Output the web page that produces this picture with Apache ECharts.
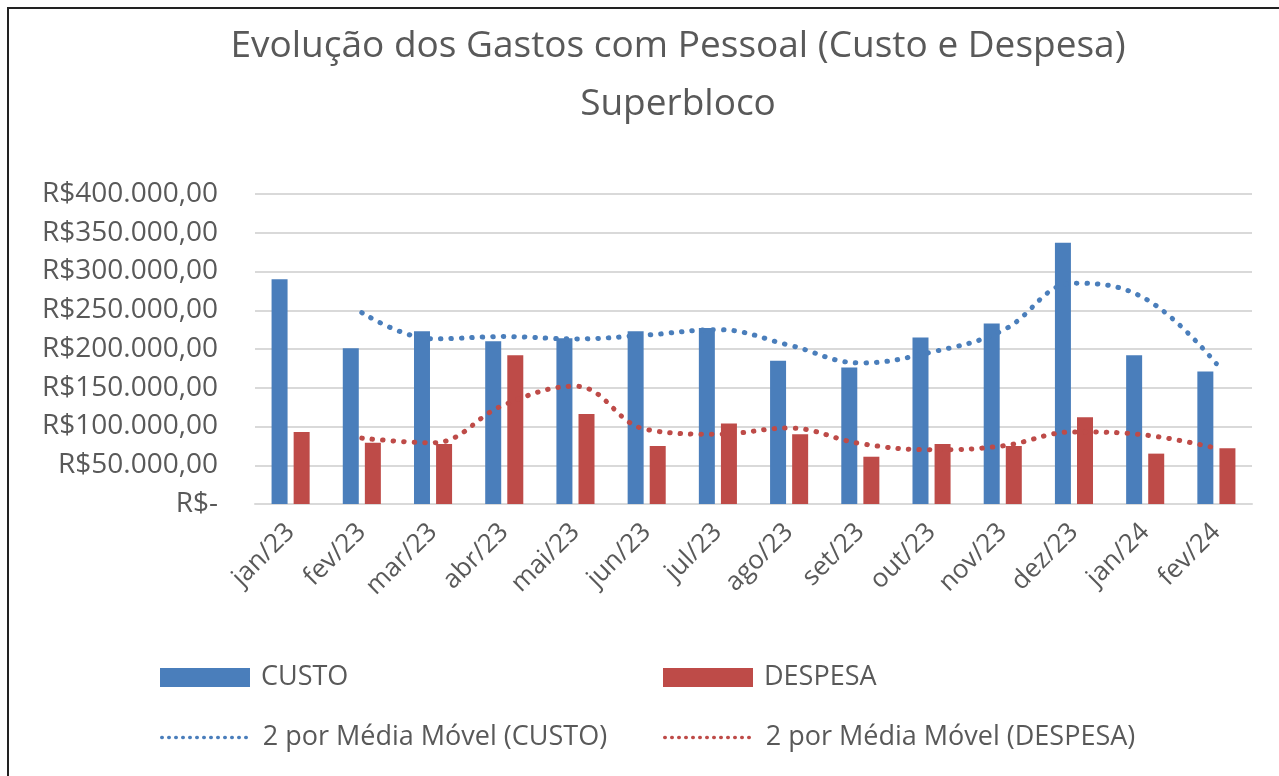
<!DOCTYPE html>
<html>
<head>
<meta charset="utf-8">
<title>Evolução dos Gastos com Pessoal</title>
<script src="https://cdn.jsdelivr.net/npm/echarts@6/dist/echarts.min.js"></script>
<style>
  html, body { margin: 0; padding: 0; background: #fff; }
  #main { width: 1279px; height: 776px; }
</style>
</head>
<body>
<div id="main"></div>
<script>
// dados
var meses = ['jan/23', 'fev/23', 'mar/23', 'abr/23', 'mai/23', 'jun/23', 'jul/23',
  'ago/23', 'set/23', 'out/23', 'nov/23', 'dez/23', 'jan/24', 'fev/24'];
var custo = [290000, 201000, 223000, 210000, 214000, 223000, 227000,
  185000, 176000, 215000, 233000, 337000, 192000, 171000];
var despesa = [93000, 79000, 77500, 192000, 116000, 75000, 104000,
  90000, 61000, 77500, 75000, 112000, 65000, 72000];
var mediaCusto = [null, 247000, 213000, 216000, 213000, 218000, 225000,
  205000, 182000, 196000, 224000, 285000, 265000, 181000];
var mediaDespesa = [null, 85000, 79000, 128000, 152000, 96000, 90000,
  98000, 78000, 70000, 75000, 93000, 89000, 72000];

var azul = '#4a7ebb';
var vermelho = '#be4b48';
var cinza = '#595959';
var fonte = '"Open Sans", sans-serif';

function formatReal(v) {
  if (v === 0) return 'R$-';
  var s = String(v).replace(/\B(?=(\d{3})+(?!\d))/g, '.');
  return 'R$' + s + ',00';
}

var chart = echarts.init(document.getElementById('main'));

function legenda(nome, left, top, w, h, linha) {
  var l = {
    data: [nome],
    left: left,
    top: top,
    padding: 0,
    itemWidth: w,
    itemHeight: h,
    selectedMode: false,
    textStyle: { fontFamily: fonte, fontSize: 27, color: cinza, padding: [0, 0, 0, 6] }
  };
  if (linha) {
    // só a linha pontilhada, sem o símbolo
    l.itemStyle = { opacity: 0, borderWidth: 0 };
    l.lineStyle = { width: 3.5, type: [0.5, 6.5], cap: 'round' };
  } else {
    l.icon = 'rect';
  }
  return l;
}

var option = {
  animation: false,
  backgroundColor: '#fff',
  title: {
    text: 'Evolução dos Gastos com Pessoal (Custo e Despesa)\nSuperbloco',
    left: 673,
    textAlign: 'center',
    top: 12,
    textStyle: {
      fontFamily: fonte,
      fontSize: 37,
      fontWeight: 'normal',
      color: cinza,
      lineHeight: 58
    }
  },
  graphic: [{
    type: 'rect',
    shape: { x: 8, y: 8, width: 1320, height: 820 },
    style: { fill: null, stroke: '#222', lineWidth: 2 }
  }],
  legend: [
    legenda('CUSTO', 160, 664, 90, 19),
    legenda('DESPESA', 663, 664, 90, 19),
    legenda('2 por Média Móvel (CUSTO)', 160, 724, 90, 26, true),
    legenda('2 por Média Móvel (DESPESA)', 663, 724, 90, 26, true)
  ],
  grid: {
    left: 255,
    right: 27,
    top: 194,
    bottom: 272
  },
  xAxis: {
    type: 'category',
    data: meses,
    axisLine: { lineStyle: { color: '#d9d9d9', width: 2 } },
    axisTick: { length: 8, lineStyle: { color: '#d9d9d9', width: 2 } },
    axisLabel: {
      rotate: 45,
      margin: 24,
      fontFamily: fonte,
      fontSize: 26,
      color: cinza
    }
  },
  yAxis: {
    type: 'value',
    min: 0,
    max: 400000,
    interval: 50000,
    axisLine: { show: false },
    axisTick: { show: false },
    splitLine: { lineStyle: { color: '#d9d9d9', width: 2 } },
    axisLabel: {
      margin: 37,
      fontFamily: fonte,
      fontSize: 28,
      color: cinza,
      formatter: formatReal
    }
  },
  series: [
    {
      name: 'CUSTO',
      type: 'bar',
      data: custo,
      barWidth: 16,
      barGap: '38%',
      itemStyle: { color: azul }
    },
    {
      name: 'DESPESA',
      type: 'bar',
      data: despesa,
      barWidth: 16,
      barGap: '38%',
      itemStyle: { color: vermelho }
    },
    {
      name: '2 por Média Móvel (CUSTO)',
      type: 'line',
      data: mediaCusto,
      smooth: 0.4,
      symbol: 'none',
      z: 5,
      itemStyle: { color: azul },
      lineStyle: { color: azul, width: 5, type: [0.5, 10], cap: 'round' }
    },
    {
      name: '2 por Média Móvel (DESPESA)',
      type: 'line',
      data: mediaDespesa,
      smooth: 0.4,
      symbol: 'none',
      z: 5,
      itemStyle: { color: vermelho },
      lineStyle: { color: vermelho, width: 5, type: [0.5, 10], cap: 'round' }
    }
  ]
};

chart.setOption(option);
</script>
</body>
</html>
